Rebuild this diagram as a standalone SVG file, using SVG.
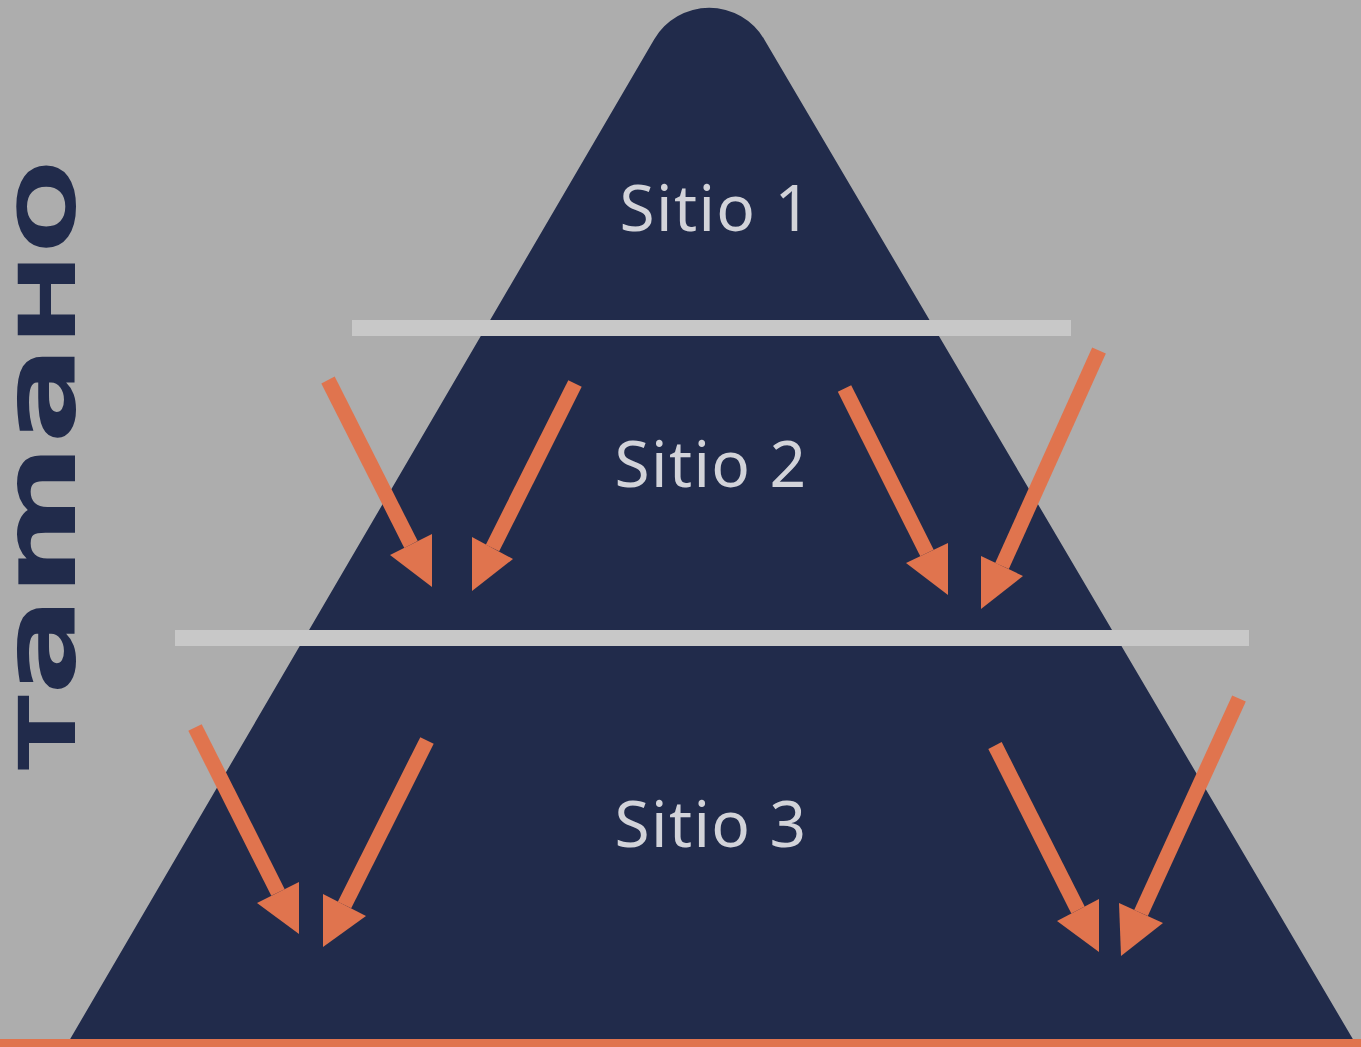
<svg xmlns="http://www.w3.org/2000/svg" width="1361" height="1047" viewBox="0 0 1361 1047">
<style>
.lbl{font-family:"Noto Sans","Open Sans",sans-serif;font-size:64px;fill:#d2d3d9;text-anchor:middle;letter-spacing:1.4px}
.bar{fill:#c8c8c8}
.shaft{stroke:#e0744e;stroke-width:15;fill:none;stroke-linecap:butt}
.head{fill:#e0744e}
.side{font-family:"DejaVu Sans",sans-serif;font-weight:bold;fill:#212b4b}
</style>
<rect x="0" y="0" width="1361" height="1047" fill="#adadad"/>
<g id="pyramid">
<path d="M69,1041 L654.1,39.4 A63.8,63.8 0 0 1 764.3,39.4 L1354,1041 Z" fill="#212b4b"/>
</g>
<g id="separators">
<rect class="bar" x="352" y="320" width="719" height="16"/>
<rect class="bar" x="175" y="630" width="1074" height="16"/>
</g>
<g id="sitio1"><text class="lbl" x="716" y="231">Sitio 1</text></g>
<g id="sitio2"><text class="lbl" x="711" y="487">Sitio 2</text></g>
<g id="sitio3"><text class="lbl" x="711" y="847">Sitio 3</text></g>
<g id="axis-label">
<text class="side" transform="translate(75,770) rotate(-90)" textLength="610" lengthAdjust="spacingAndGlyphs"><tspan font-size="78">T</tspan><tspan font-size="104">ama</tspan><tspan font-size="78">HO</tspan></text>
</g>
<g id="connectors">
<line class="shaft" x1="328" y1="380" x2="411" y2="544.5"/>
<polygon class="head" points="432,587 432,534 390,555"/>
<line class="shaft" x1="575" y1="383.5" x2="492.5" y2="548"/>
<polygon class="head" points="472,591 472,537 513,559"/>
<line class="shaft" x1="844.5" y1="388.5" x2="927" y2="553"/>
<polygon class="head" points="948,595 948,543 906,563"/>
<line class="shaft" x1="1099" y1="350.5" x2="1002" y2="566"/>
<polygon class="head" points="981,609 981,556 1023,576"/>
<line class="shaft" x1="195" y1="727.5" x2="278" y2="892.5"/>
<polygon class="head" points="299,934 299,882 257,903"/>
<line class="shaft" x1="427" y1="740.5" x2="344.5" y2="905"/>
<polygon class="head" points="323,947 323,894 366,916"/>
<line class="shaft" x1="995" y1="745.5" x2="1078" y2="910"/>
<polygon class="head" points="1099,952 1099,899 1057,921"/>
<line class="shaft" x1="1239" y1="698.5" x2="1141" y2="913"/>
<polygon class="head" points="1121,956 1119,903 1163,923"/>
</g>
<rect x="0" y="1039" width="1361" height="8" fill="#e0744e"/>
</svg>
